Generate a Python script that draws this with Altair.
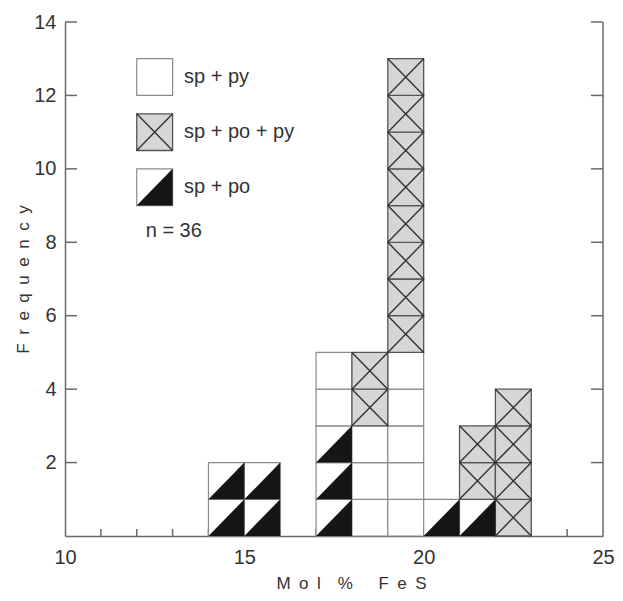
import altair as alt
import pandas as pd

# ---- data ----
bins = [14, 15, 17, 18, 19, 20, 21, 22]            # left edge of each 1 mol% bin
count_sp_po = [2, 2, 3, 0, 0, 1, 1, 0]             # stacked first (bottom)
count_sp_py = [0, 0, 2, 3, 5, 0, 0, 0]             # stacked second
count_sp_po_py = [0, 0, 0, 2, 8, 0, 2, 4]          # stacked third (top)
categories = ["sp + py", "sp + po + py", "sp + po"]
x_tick_labels = [10, 15, 20, 25]
x_minor_ticks = [11, 12, 13, 14, 15, 16, 17, 18, 19, 20, 21, 22, 23, 24]
y_tick_labels = [2, 4, 6, 8, 10, 12, 14]
n_label = "n = 36"
x_title = "M\u2002o\u2002l\u2002\u2002%\u2002\u2002\u2002F\u2002e\u2002S"
y_title = "\u2002".join("Frequency")

# ---- layout constants ----
W, H = 538, 514
FONT = "Liberation Sans"
TXT = "#333333"
AX = "#6a6a6a"
legend_x = 12
legend_bottoms = {"sp + py": 12.0, "sp + po + py": 10.5, "sp + po": 9.0}
legend_text_x = 13.32
n_pos = (12.25, 8.3)

# ---- build unit cells ----
stack_order = [("sp + po", count_sp_po), ("sp + py", count_sp_py), ("sp + po + py", count_sp_po_py)]
rows = []
for i, b in enumerate(bins):
    level = 0
    for cat, counts in stack_order:
        for _ in range(counts[i]):
            rows.append(dict(x0=b, x1=b + 1, y0=level, y1=level + 1, cat=cat))
            level += 1
for cat in categories:
    yb = legend_bottoms[cat]
    rows.append(dict(x0=legend_x, x1=legend_x + 1, y0=yb, y1=yb + 1, cat=cat))
cells = pd.DataFrame(rows)
cells["id"] = range(len(cells))

tri_rows = []
for _, r in cells[cells.cat == "sp + po"].iterrows():
    tri_rows.append(dict(id=r.id, x=r.x0, y=r.y0, yb=r.y0))
    tri_rows.append(dict(id=r.id, x=r.x1, y=r.y1, yb=r.y0))
tris = pd.DataFrame(tri_rows)

cross_rows = []
for _, r in cells[cells.cat == "sp + po + py"].iterrows():
    cross_rows.append(dict(xa=r.x0, ya=r.y0, xb=r.x1, yb=r.y1))
    cross_rows.append(dict(xa=r.x0, ya=r.y1, xb=r.x1, yb=r.y0))
crosses = pd.DataFrame(cross_rows)

labels = pd.DataFrame({
    "tx": [legend_text_x] * 3 + [n_pos[0]],
    "ty": [legend_bottoms[c] + 0.5 for c in categories] + [n_pos[1]],
    "label": categories + [n_label],
})

xs = alt.Scale(domain=[10, 25], nice=False, zero=False)
ys = alt.Scale(domain=[0, 14], nice=False, zero=False)
xaxis = alt.Axis(values=x_tick_labels, ticks=False, grid=False, labelFlush=False,
                 labelPadding=11, labelFontSize=20, labelFont=FONT, labelColor=TXT,
                 domainColor=AX, domainWidth=1.5,
                 title=x_title, titleFont=FONT, titleFontSize=17, titleFontWeight="normal",
                 titleColor=TXT, titleX=286, titleY=47, titleBaseline="middle", titleAlign="center")
yaxis = alt.Axis(values=y_tick_labels, ticks=False, grid=False,
                 labelPadding=9, labelFontSize=20, labelFont=FONT, labelColor=TXT,
                 domainColor=AX, domainWidth=1.5,
                 title=y_title, titleFont=FONT, titleFontSize=17, titleFontWeight="normal",
                 titleColor=TXT, titleX=-42, titleY=257, titleAngle=270,
                 titleBaseline="middle", titleAlign="center")

X = lambda f: alt.X(f, scale=xs, axis=xaxis)
Y = lambda f: alt.Y(f, scale=ys, axis=yaxis)

ytick_df = pd.DataFrame({"t": y_tick_labels})
xtick_df = pd.DataFrame({"t": x_minor_ticks})

left_ticks = alt.Chart(ytick_df).mark_rule(color=AX, strokeWidth=1.5).encode(
    y=Y("t:Q"), x=alt.value(0), x2=alt.value(12))
right_ticks = alt.Chart(ytick_df).mark_rule(color=AX, strokeWidth=1.5).encode(
    y=Y("t:Q"), x=alt.value(W - 12), x2=alt.value(W))
bottom_ticks = alt.Chart(xtick_df).mark_rule(color=AX, strokeWidth=1.5).encode(
    x=X("t:Q"), y=alt.value(H), y2=alt.value(H - 7))
right_border = alt.Chart(pd.DataFrame({"a": [0]})).mark_rule(color=AX, strokeWidth=1.5).encode(
    x=alt.value(W), y=alt.value(0), y2=alt.value(H))

white_cells = alt.Chart(cells).transform_filter(alt.datum.cat != "sp + po + py").mark_rect(
    fill="white", stroke="#8a8a8a", strokeWidth=1.2).encode(
    x=X("x0:Q"), x2="x1:Q", y=Y("y0:Q"), y2="y1:Q")
gray_cells = alt.Chart(cells).transform_filter(alt.datum.cat == "sp + po + py").mark_rect(
    fill="#d6d6d6", stroke="#555555", strokeWidth=1.3).encode(
    x=X("x0:Q"), x2="x1:Q", y=Y("y0:Q"), y2="y1:Q")
triangles = alt.Chart(tris).mark_area(color="#151515", interpolate="linear").encode(
    x=X("x:Q"), y=alt.Y("y:Q", scale=ys, axis=yaxis, stack=None), y2="yb:Q", detail="id:N")
cross_lines = alt.Chart(crosses).mark_rule(color="#333333", strokeWidth=1.4).encode(
    x=X("xa:Q"), x2="xb:Q", y=Y("ya:Q"), y2="yb:Q")
texts = alt.Chart(labels).mark_text(align="left", baseline="middle", fontSize=20,
                                    font=FONT, color=TXT).encode(
    x=X("tx:Q"), y=Y("ty:Q"), text="label:N")

chart = alt.layer(
    left_ticks, right_ticks, bottom_ticks, right_border,
    white_cells, gray_cells, triangles, cross_lines, texts
).properties(
    width=W, height=H, autosize="none",
    padding={"left": 57, "top": 14, "right": 12, "bottom": 57},
    background="white",
).configure_view(stroke=None)

chart.save("out.html", embed_options={"renderer": "svg", "actions": False})
